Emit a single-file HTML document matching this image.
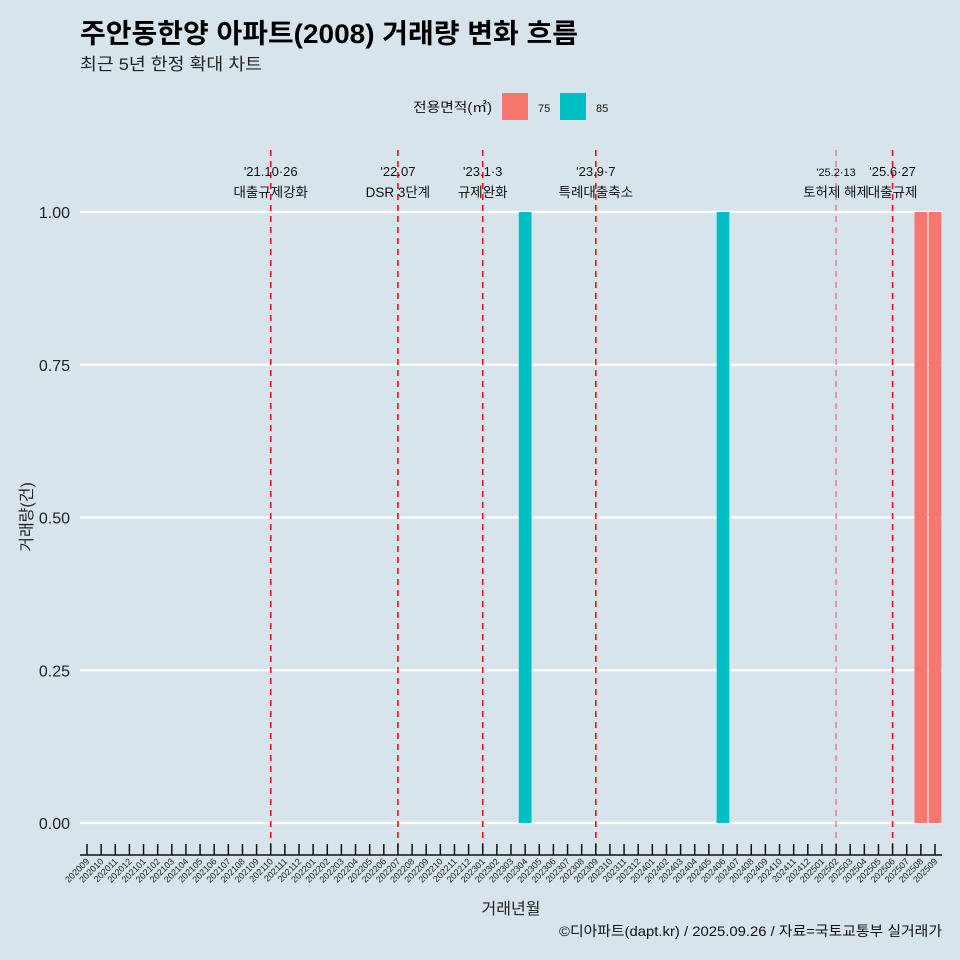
<!DOCTYPE html>
<html><head><meta charset="utf-8"><style>
html,body{margin:0;padding:0;background:#d7e4eb;}
svg{display:block;font-family:"Liberation Sans","Noto Sans CJK KR",sans-serif;}
</style></head><body>
<svg id="chart" width="960" height="960" viewBox="0 0 960 960">
<rect width="960" height="960" fill="#d7e4eb"/>
<text x="80" y="43" font-size="27" font-weight="bold" fill="#000" textLength="498" lengthAdjust="spacingAndGlyphs">주안동한양 아파트(2008) 거래량 변화 흐름</text>
<text x="80" y="70" font-size="17" fill="#222" textLength="182" lengthAdjust="spacingAndGlyphs">최근 5년 한정 확대 차트</text>
<g>
<text x="413" y="112" font-size="13.5" fill="#111" textLength="79" lengthAdjust="spacingAndGlyphs">전용면적(㎡)</text>
<rect x="502" y="93" width="26" height="27" fill="#f8766d"/>
<text x="538" y="112" font-size="11" fill="#111">75</text>
<rect x="560" y="93" width="26" height="27" fill="#00bfc4"/>
<text x="596" y="112" font-size="11" fill="#111">85</text>
</g>
<g id="plot"></g>
<text x="32" y="517" font-size="16" fill="#222" text-anchor="middle" transform="rotate(-90 32 517)">거래량(건)</text>
<text x="511" y="914" font-size="16" fill="#222" text-anchor="middle">거래년월</text>
<text x="942" y="936" font-size="14" fill="#111" text-anchor="end" textLength="383" lengthAdjust="spacingAndGlyphs">©디아파트(dapt.kr) / 2025.09.26 / 자료=국토교통부 실거래가</text>
</svg>
<script>
const months = [];
for (let y = 2020, m = 9; !(y === 2025 && m === 10); ) { months.push(String(y) + String(m).padStart(2, '0')); m++; if (m > 12) { m = 1; y++; } }
const barMonths = ['202304', '202406', '202508', '202509'];
const barValues = [1, 1, 1, 1];
const barAreas = ['85', '85', '75', '75'];
const yTicks = [0, 0.25, 0.5, 0.75, 1];
const yTickLabels = ['0.00', '0.25', '0.50', '0.75', '1.00'];
const eventMonths = ['202110', '202207', '202301', '202309', '202502', '202506'];
const eventDates = ["'21.10·26", "'22.07", "'23.1·3", "'23.9·7", "'25.2·13", "'25.6·27"];
const eventLabels = ['대출규제강화', 'DSR 3단계', '규제완화', '특례대출축소', '토허제 해제', '대출규제'];

const NS = 'http://www.w3.org/2000/svg';
const plot = document.getElementById('plot');
const x0 = 87, step = (935 - 87) / (months.length - 1);
const xs = m => x0 + months.indexOf(m) * step;
const ys = v => 823 - v * (823 - 212);
const colors = { '75': '#f8766d', '85': '#00bfc4' };
function mk(tag, attrs) { const e = document.createElementNS(NS, tag); for (const k in attrs) e.setAttribute(k, attrs[k]); plot.appendChild(e); return e; }

yTicks.forEach((v, i) => {
  const g = mk('line', { x1: 80, x2: 942, y1: ys(v), y2: ys(v), stroke: '#fff', 'stroke-width': 2.2 });
  
  
  const t = mk('text', { x: 70, y: ys(v) + 6, 'font-size': 16, 'text-anchor': 'end', fill: '#222' });
  t.textContent = yTickLabels[i];
  
  
});

barMonths.forEach((m, i) => {
  const w = step * 0.9;
  const r = mk('rect', { x: xs(m) - w / 2, y: ys(barValues[i]), width: w, height: ys(0) - ys(barValues[i]), fill: colors[barAreas[i]] });
  
  
});

eventMonths.forEach((m, i) => {
  const x = xs(m);
  const thin = m === '202502';
  const l = mk('line', { x1: x, x2: x, y1: 150, y2: 855, stroke: thin ? '#f05050' : '#ee1111', 'stroke-width': thin ? 1 : 1.6, 'stroke-dasharray': '6,5' });
  
  
  const t1 = mk('text', { x: x, y: 176, 'font-size': thin ? 11 : 13, 'text-anchor': 'middle', fill: '#111' });
  t1.textContent = eventDates[i];
  
  
  const t2 = mk('text', { x: x, y: 197, 'font-size': 13.5, 'text-anchor': 'middle', fill: '#111' });
  t2.textContent = eventLabels[i];
  
  
});

const ax = mk('line', { x1: 80, x2: 942, y1: 855, y2: 855, stroke: '#111', 'stroke-width': 1.5 });


months.forEach(m => {
  const x = xs(m);
  const tk = mk('line', { x1: x, x2: x, y1: 844, y2: 855, stroke: '#111', 'stroke-width': 1.5 });
  
  
  const t = mk('text', { x: x + 3, y: 862, 'font-size': 9, 'text-anchor': 'end', fill: '#222', transform: `rotate(-45 ${x + 3} 862)` });
  t.textContent = m;
  
  
});
</script>
</body></html>
